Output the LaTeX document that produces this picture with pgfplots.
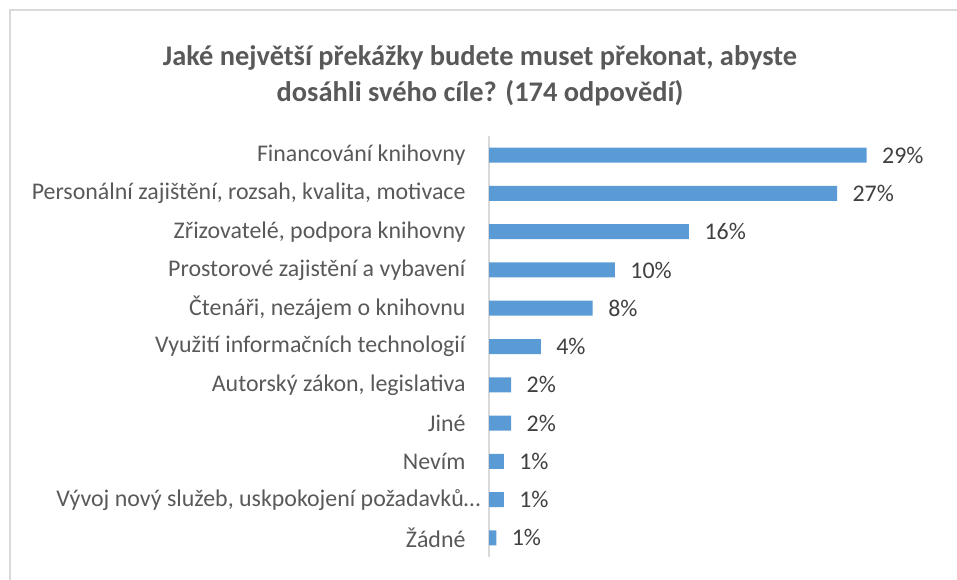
\documentclass[border=0pt]{standalone}
\usepackage{pgfplots}
\pgfplotsset{compat=1.18}
\usepackage{fontspec}
\setmainfont{Carlito}
\definecolor{barblue}{HTML}{5B9BD5}
\definecolor{labgray}{HTML}{595959}
\definecolor{datgray}{HTML}{404040}
\definecolor{framegray}{HTML}{D9D9D9}
\begin{document}
\begin{tikzpicture}
\useasboundingbox (0,0) rectangle (957pt,580pt);
\draw[framegray, line width=1.2pt] (10pt,-5pt) -- (10pt,570pt) -- (965pt,570pt);
\node[align=center, font=\fontsize{28.4}{36}\selectfont\bfseries, text=labgray, anchor=base] at (480pt,478pt)
  {Jaké největší překážky budete muset překonat, abyste\\dosáhli svého cíle? (174 odpovědí)};
\begin{axis}[
  at={(489pt,23pt)}, anchor=south west,
  scale only axis, width=451pt, height=421pt,
  xbar, bar width=15pt,
  xmin=0, xmax=35, ymin=-0.5, ymax=10.5,
  y dir=reverse,
  axis x line=none,
  axis y line*=left,
  y axis line style={draw=framegray, line width=1.5pt},
  ytick={0,...,10},
  yticklabels={Financování knihovny, {Personální zajištění, rozsah, kvalita, motivace}, {Zřizovatelé, podpora knihovny}, Prostorové zajistění a vybavení, {Čtenáři, nezájem o knihovnu}, Využití informačních technologií, {Autorský zákon, legislativa}, Jiné, Nevím, {Vývoj nový služeb, uskpokojení požadavků…\kern-15pt}, Žádné},
  major tick length=0pt,
  yticklabel style={font=\fontsize{23.9}{28}\selectfont, text=labgray, xshift=-20pt},
  /pgf/number format/assume math mode=true,
  nodes near coords={\pgfmathprintnumber[fixed,precision=0,assume math mode=true]{\pgfplotspointmeta}\%},
  nodes near coords style={font=\fontsize{23.9}{28}\selectfont, text=datgray, xshift=12pt},
  point meta=x,
  clip=false,
]
\addplot[fill=barblue, draw=none] coordinates {
 (29.31,0) (27.01,1) (15.52,2) (9.77,3) (8.05,4) (4.02,5) (1.72,6) (1.72,7) (1.15,8) (1.15,9) (0.57,10)
};
\end{axis}
\end{tikzpicture}
\end{document}
